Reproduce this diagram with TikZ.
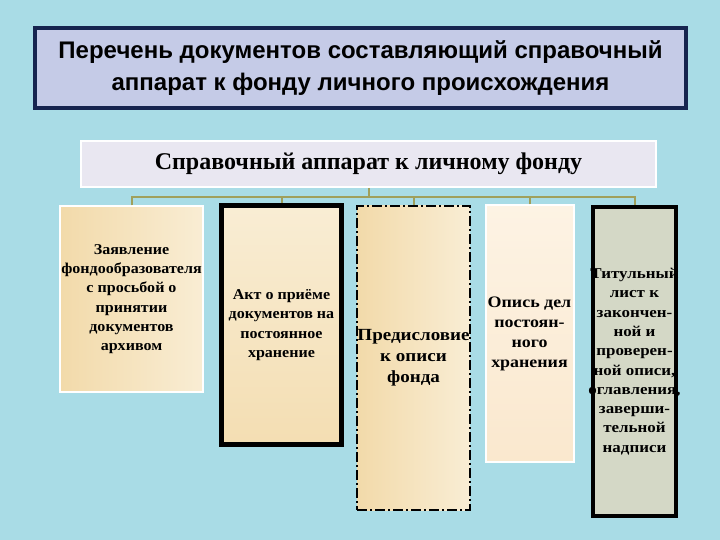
\documentclass[tikz,border=0pt]{standalone}
\usepackage{fontspec}
\setmainfont{Liberation Serif}
\newfontfamily\titlefont{Liberation Sans}
\newfontfamily\boxfont[FakeStretch=1.07]{Liberation Serif}
\newfontfamily\wideboxfont[FakeStretch=1.12]{Liberation Serif}
\newfontfamily\widerboxfont[FakeStretch=1.13]{Liberation Serif}
\newcommand\clline[1]{\makebox[60pt]{#1}}
\definecolor{bgcol}{HTML}{A9DCE6}
\definecolor{navy}{HTML}{16244F}
\definecolor{titlefill}{HTML}{C5CBE7}
\definecolor{subfill}{HTML}{E9E7F1}
\definecolor{buscol}{HTML}{A0A05C}
\definecolor{wheatA}{HTML}{F2DAAA}
\definecolor{wheatB}{HTML}{F9EDD4}
\definecolor{creamA}{HTML}{FDF3E4}
\definecolor{creamB}{HTML}{FAE8CE}
\definecolor{sage}{HTML}{D4D8C6}
\tikzset{
  docbox/.style={rectangle, inner sep=0pt, align=center, font=\boxfont\bfseries\fontsize{15}{19.3}\selectfont},
  busline/.style={draw=buscol, line width=2pt},
}
\begin{document}
\begin{tikzpicture}[x=1pt,y=-1pt]
\useasboundingbox (0,0) rectangle (720,540);
\fill[bgcol] (0,0) rectangle (720,540);
% title
\node[rectangle, draw=navy, line width=4pt, fill=titlefill, minimum width=651pt, minimum height=80pt, align=center,
  font=\titlefont\bfseries\fontsize{24}{32}\selectfont] (title) at (360.5,68)
  {Перечень документов составляющий справочный\\аппарат к фонду личного происхождения};
% subtitle
\node[rectangle, draw=white, line width=2pt, fill=subfill, minimum width=575pt, minimum height=46pt,
  font=\bfseries\fontsize{24}{28}\selectfont] (sub) at (368.5,164) {Справочный аппарат к личному фонду};
% boxes
\node[docbox, draw=white, line width=2pt, left color=wheatA, right color=wheatB, minimum width=143pt, minimum height=185pt] (b1) at (131.5,299)
  {Заявление\\фондообразователя\\с просьбой о\\принятии\\документов\\архивом};
\node[docbox, draw=black, line width=5pt, top color=wheatB, bottom color=wheatA!80!wheatB, minimum width=120pt, minimum height=239pt] (b2) at (281.5,325)
  {Акт о приёме\\документов на\\постоянное\\хранение};
\node[docbox, draw=black, line width=2pt, dash pattern=on 10pt off 3pt on 2pt off 3pt, left color=wheatA, right color=wheatB, minimum width=111pt, minimum height=304pt,
  font=\wideboxfont\bfseries\fontsize{17}{21}\selectfont] (b3) at (413.5,358)
  {Предисловие\\к описи\\фонда};
\node[docbox, draw=white, line width=2pt, top color=creamA, bottom color=creamB, minimum width=88pt, minimum height=256pt,
  font=\wideboxfont\bfseries\fontsize{16}{20}\selectfont] (b4) at (529.5,333.5)
  {Опись дел\\постоян-\\ного\\хранения};
\node[docbox, draw=black, line width=4pt, fill=sage, minimum width=83pt, minimum height=309pt,
  font=\widerboxfont\bfseries\fontsize{15}{19.3}\selectfont] (b5) at (634.5,361.5)
  {\clline{Титульный}\\\clline{лист к}\\\clline{закончен-}\\\clline{ной и}\\\clline{проверен-}\\\clline{ной описи,}\\\clline{оглавления,}\\\clline{заверши-}\\\clline{тельной}\\\clline{надписи}};
% connectors
\coordinate (bus) at (0,197);
\draw[busline] (b1.north) -- (b1.north |- bus) -- (b5.north |- bus) -- (b5.north);
\draw[busline] (sub.south) -- (sub.south |- bus);
\draw[busline] (b2.north) -- (b2.north |- bus);
\draw[busline] (b3.north) -- (b3.north |- bus);
\draw[busline] (b4.north) -- (b4.north |- bus);
\end{tikzpicture}
\end{document}
